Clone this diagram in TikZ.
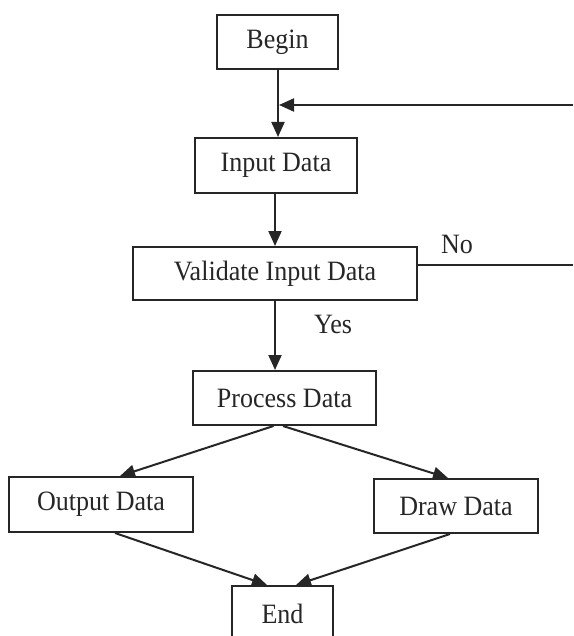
\documentclass[tikz,border=0pt]{standalone}
\usepackage{fontspec}
\setmainfont{Liberation Serif}[FakeStretch=0.93]
\usetikzlibrary{arrows.meta}
\definecolor{ink}{HTML}{262626}
\begin{document}
\begin{tikzpicture}[x=1pt,y=-1pt,
  box/.style={draw=ink, line width=2pt, rectangle, inner sep=0pt, font=\fontsize{28}{32}\selectfont, text=ink},
  conn/.style={draw=ink, line width=2pt, -{Triangle[length=15pt,width=13pt]}},
  plainline/.style={draw=ink, line width=2pt},
  lbl/.style={font=\fontsize{28}{32}\selectfont, text=ink, inner sep=0pt}]
\useasboundingbox (0,0) rectangle (573,636);
\clip (0,0) rectangle (573,636);
\node[box, minimum width=121pt, minimum height=54pt] (begin) at (277.5,42) {Begin};
\node[box, minimum width=162pt, minimum height=55pt] (input) at (276,165.5) {Input Data};
\node[box, minimum width=284pt, minimum height=53pt] (validate) at (275,273.5) {Validate Input Data};
\node[box, minimum width=183pt, minimum height=54pt] (process) at (284.5,398) {Process Data};
\node[box, minimum width=184pt, minimum height=55pt] (output) at (101,504.5) {Output Data};
\node[box, minimum width=164pt, minimum height=54pt] (drawd) at (456,506) {Draw Data};
\node[box, minimum width=101pt, minimum height=55pt] (end) at (282.5,613.5) {End};
\coordinate (vx) at (278,0);
\coordinate (vy) at (275,0);
\coordinate (join) at (279,105);
\coordinate (fbR) at (573,105);
\coordinate (noR) at (573,265);
\draw[conn] (begin.south -| vx) -- (input.north -| vx);
\draw[conn] (fbR) -- (join);
\draw[conn] (input.south -| vy) -- (validate.north -| vy);
\draw[conn] (validate.south -| vy) -- (process.north -| vy);
\draw[plainline] (validate.east |- noR) -- (noR);
\node[lbl] (no) at (457,244) {No};
\node[lbl] (yes) at (333,324) {Yes};
\draw[conn] ([xshift=-11pt]process.south) -- ([xshift=19pt]output.north);
\draw[conn] ([xshift=-1.5pt]process.south) -- ([xshift=-8pt]drawd.north);
\draw[conn] ([xshift=14pt]output.south) -- ([xshift=-15.5pt]end.north);
\draw[conn] ([xshift=-6pt]drawd.south) -- ([xshift=13.5pt]end.north);
\end{tikzpicture}
\end{document}
